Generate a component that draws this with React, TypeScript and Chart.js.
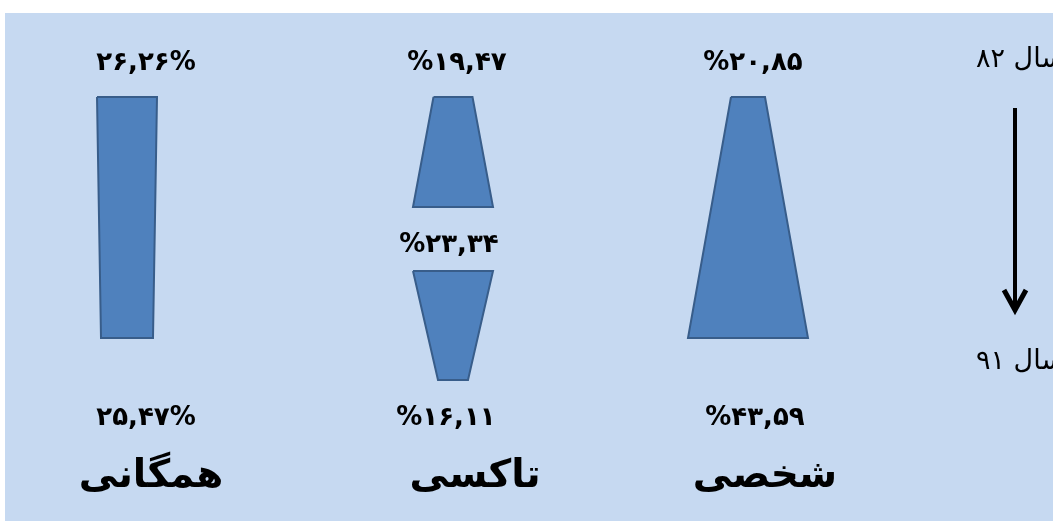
import React, { useEffect, useRef } from "react";
import { Chart, registerables } from "chart.js";

Chart.register(...registerables);

// ---- data ----
const categories = ["همگانی", "تاکسی", "شخصی"];
const share82 = [26.26, 19.47, 20.85];
const shareMid: (number | null)[] = [null, 23.34, null];
const share91 = [25.47, 16.11, 43.59];
const yearLabels = ["سال ۸۲", "سال ۹۱"];
const percentAfter = [true, false, false];

// drawn widths of each shape at its top, middle and bottom (axis units)
const widthTop = [60, 39, 34];
const widthMid: (number | null)[] = [null, 80, null];
const widthBottom = [52, 30, 120];

// ---- layout (axis units) ----
const colCenter = [127, 453, 748];
const topLabelCenter = [146, 457, 753];
const midLabelCenter = [0, 449, 0];
const bottomLabelCenter = [146, 446, 755];
const nameCenter = [151, 475, 765];
const yTop = 97;
const yBottom = 338;
const yMidA = 207;
const yMidB = 271;
const yBottomMid = 380;

const FILL = "#4F81BD";
const EDGE = "#385D8A";
const BG = "#C6D9F1";

const faDigits = "۰۱۲۳۴۵۶۷۸۹";
const toFa = (s: string) => s.replace(/\d/g, (d) => faDigits[+d]);
const fmt = (v: number, after: boolean) => {
  const s = toFa(v.toFixed(2).replace(".", ","));
  return after ? s + "%" : "%" + s;
};

const trapezoid = (cx: number, y1: number, w1: number, y2: number, w2: number) => [
  { x: cx - w1 / 2, y: y1 },
  { x: cx + w1 / 2, y: y1 },
  { x: cx + w2 / 2, y: y2 },
  { x: cx - w2 / 2, y: y2 },
  { x: cx - w1 / 2, y: y1 },
];

function buildShapes() {
  const shapes: { x: number; y: number }[][] = [];
  categories.forEach((_, i) => {
    const wm = widthMid[i];
    if (wm != null) {
      shapes.push(trapezoid(colCenter[i], yTop, widthTop[i], yMidA, wm));
      shapes.push(trapezoid(colCenter[i], yMidB, wm, yBottomMid, widthBottom[i]));
    } else {
      shapes.push(trapezoid(colCenter[i], yTop, widthTop[i], yBottom, widthBottom[i]));
    }
  });
  return shapes;
}

const labelsPlugin = {
  id: "labels",
  afterDatasetsDraw(chart: any) {
    const ctx = chart.ctx as CanvasRenderingContext2D;
    const xs = chart.scales.x;
    const ys = chart.scales.y;
    const px = (v: number) => xs.getPixelForValue(v);
    const py = (v: number) => ys.getPixelForValue(v);
    ctx.save();
    ctx.fillStyle = "#000";
    ctx.textBaseline = "middle";
    ctx.textAlign = "center";
    ctx.direction = "ltr";
    ctx.font = 'bold 26px "DejaVu Sans"';
    (ctx as any).letterSpacing = "1px";
    categories.forEach((_, i) => {
      ctx.fillText(fmt(share82[i], percentAfter[i]), px(topLabelCenter[i]), py(63));
      const m = shareMid[i];
      if (m != null) ctx.fillText(fmt(m, percentAfter[i]), px(midLabelCenter[i]), py(245));
      ctx.fillText(fmt(share91[i], percentAfter[i]), px(bottomLabelCenter[i]), py(418));
    });
    (ctx as any).letterSpacing = "0px";
    ctx.font = 'bold 39px "DejaVu Sans"';
    categories.forEach((c, i) => {
      ctx.fillText(c, px(nameCenter[i]), py(477));
    });
    // year labels and arrow
    ctx.font = '27px "DejaVu Sans"';
    ctx.textAlign = "right";
    ctx.fillText(yearLabels[0], px(1064), py(60));
    ctx.fillText(yearLabels[1], px(1064), py(362));
    ctx.strokeStyle = "#000";
    ctx.lineWidth = 4;
    ctx.beginPath();
    ctx.moveTo(px(1015), py(108));
    ctx.lineTo(px(1015), py(310));
    ctx.stroke();
    ctx.beginPath();
    ctx.lineWidth = 5;
    ctx.moveTo(px(1004), py(290));
    ctx.lineTo(px(1015), py(310));
    ctx.lineTo(px(1026), py(290));
    ctx.stroke();
    ctx.restore();
  },
};

export default function App() {
  const ref = useRef<HTMLCanvasElement | null>(null);
  useEffect(() => {
    if (!ref.current) return;
    const shapes = buildShapes();
    const chart = new Chart(ref.current, {
      type: "scatter",
      data: {
        datasets: shapes.map((pts) => ({
          data: pts,
          showLine: true,
          fill: "shape",
          backgroundColor: FILL,
          borderColor: EDGE,
          borderWidth: 2,
          pointRadius: 0,
          pointHoverRadius: 0,
          tension: 0,
        })),
      },
      options: {
        animation: false,
        responsive: false,
        layout: { padding: 0 },
        plugins: { legend: { display: false }, tooltip: { enabled: false } },
        events: [],
        scales: {
          x: { type: "linear", min: 5, max: 1053, display: false },
          y: { type: "linear", min: 13, max: 521, reverse: true, display: false },
        },
      } as any,
      plugins: [labelsPlugin],
    });
    return () => chart.destroy();
  }, []);
  return (
    <div style={{ position: "fixed", left: 0, top: 0, width: 1053, height: 521, background: "#fff" }}>
      <div style={{ position: "absolute", left: 5, top: 13, width: 1048, height: 508, background: BG }}>
        <canvas ref={ref} width={1048} height={508} style={{ display: "block" }} />
      </div>
    </div>
  );
}
